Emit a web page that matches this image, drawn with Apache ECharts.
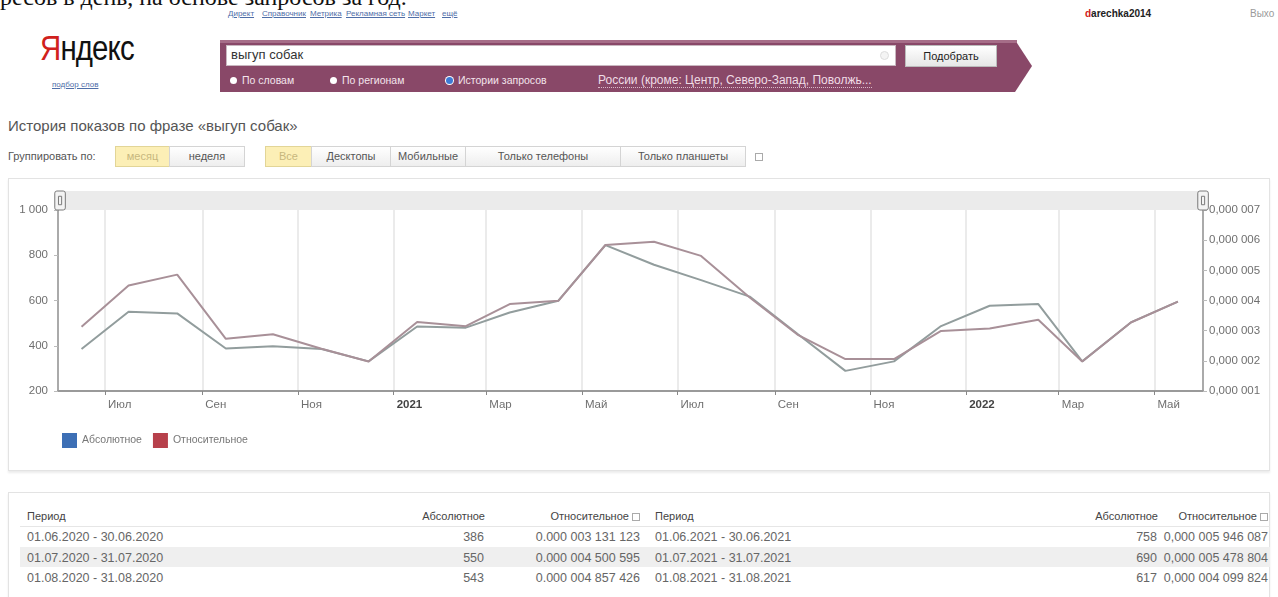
<!DOCTYPE html>
<html lang="ru">
<head>
<meta charset="utf-8">
<title>История показов по фразе «выгуп собак»</title>
<script src="https://cdn.jsdelivr.net/npm/echarts@6/dist/echarts.min.js"></script>
<style>
  html, body { margin: 0; padding: 0; background: #fff; }
  body {
    width: 1278px; height: 597px; position: relative; overflow: hidden;
    font-family: 'Liberation Sans', Arial, sans-serif; color: #333;
  }
  .a { position: absolute; white-space: nowrap; }
  .cut-text { left: 0; top: -15px; font: 24px/24px 'Liberation Serif', 'Times New Roman', serif; color: #111; }
  .nav { top: 9px; font-size: 8px; line-height: 10px; color: #4f6ea8; text-decoration: underline; }
  .logo { left: 40px; top: 29px; font-size: 35px; line-height: 37px; color: #111; transform: scaleX(0.84); transform-origin: left top; letter-spacing: -1px; }
  .logo span { color: #d0211c; }
  .sublogo { left: 52px; top: 80px; font-size: 8px; color: #4f6ea8; text-decoration: underline; }
  .banner {
    left: 220px; top: 40px; width: 812px; height: 52px; background: #894868;
    clip-path: polygon(0 0, 795px 0, 812px 26px, 795px 52px, 0 52px);
  }
  .banner-top { left: 220px; top: 40px; width: 797px; height: 3px; background: #a66d88; }
  .search { left: 226px; top: 45px; width: 670px; height: 21px; background: #fff; border: 1px solid #c9b7c0; box-sizing: border-box; }
  .search-text { left: 231px; top: 47px; font-size: 13px; line-height: 15px; color: #333; }
  .clear { left: 880px; top: 51px; width: 9px; height: 9px; border-radius: 50%; border: 1px solid #ddd; background: #f4f4f4; box-sizing: border-box; }
  .btn-main {
    left: 905px; top: 45px; width: 92px; height: 22px; box-sizing: border-box;
    border: 1px solid #bbb; background: linear-gradient(#fff, #e6e6e6);
    font-size: 11px; line-height: 20px; text-align: center; color: #222;
  }
  .radio { top: 74px; font-size: 10.5px; line-height: 12px; color: #f3e4ec; }
  .radio i { display: inline-block; width: 7px; height: 7px; border-radius: 50%; background: #fff; margin-right: 5px; vertical-align: 0; }
  .radio i.on { background: #3d7ad6; box-shadow: 0 0 0 1px #fff; }
  .region { left: 598px; top: 74px; font-size: 12px; line-height: 13px; color: #f0dde6; border-bottom: 1px dotted #d9b9c9; }
  .user { left: 1085px; top: 8px; font-size: 10px; font-weight: bold; line-height: 12px; color: #222; }
  .user span { color: #d0211c; }
  .logout { left: 1250px; top: 8px; font-size: 10px; line-height: 12px; color: #9a9a9a; }
  .title { left: 8px; top: 118px; font-size: 15px; line-height: 16px; color: #555; }
  .group-label { left: 8px; top: 150px; font-size: 11px; line-height: 13px; color: #555; }
  .tab {
    top: 146px; height: 21px; box-sizing: border-box; border: 1px solid #d4d4d4;
    background: linear-gradient(#fff, #eee); font-size: 11px; line-height: 19px;
    text-align: center; color: #555;
  }
  .tab.on { background: #fcefb6; border-color: #e2d597; color: #c7b77e; }
  .help { width: 8px; height: 8px; border: 1px solid #aaa; box-sizing: border-box; }
  .panel { left: 8px; width: 1262px; border: 1px solid #e3e3e3; box-sizing: border-box; box-shadow: 0 2px 2px rgba(0,0,0,0.08); }
  #chart { position: absolute; left: 8px; top: 178px; width: 1262px; height: 292px; }
  .th { top: 510px; font-size: 11px; line-height: 13px; color: #444; }
  .td { font-size: 12.5px; line-height: 14px; color: #666; }
  .row-bg { left: 20px; width: 1250px; height: 20px; background: #efefef; }
  .rule { left: 20px; width: 1250px; height: 1px; background: #e6e6e6; top: 526px; }
</style>
</head>
<body>
<div class="a cut-text">ресов в день, на основе запросов за год.</div>

<div class="a nav" style="left:228px">Директ</div>
<div class="a nav" style="left:262px">Справочник</div>
<div class="a nav" style="left:310px">Метрика</div>
<div class="a nav" style="left:346px">Рекламная сеть</div>
<div class="a nav" style="left:408px">Маркет</div>
<div class="a nav" style="left:442px">ещё</div>
<div class="a user"><span>d</span>arechka2014</div>
<div class="a logout">Выхо</div>

<div class="a logo"><span>Я</span>ндекс</div>
<div class="a sublogo">подбор слов</div>

<div class="a banner"></div>
<div class="a banner-top"></div>
<div class="a search"></div>
<div class="a search-text">выгуп собак</div>
<div class="a clear"></div>
<div class="a btn-main">Подобрать</div>
<div class="a radio" style="left:230px"><i></i>По словам</div>
<div class="a radio" style="left:330px"><i></i>По регионам</div>
<div class="a radio" style="left:446px"><i class="on"></i>Истории запросов</div>
<div class="a region">России (кроме: Центр, Северо-Запад, Поволжь...</div>

<div class="a title">История показов по фразе «выгуп собак»</div>
<div class="a group-label">Группировать по:</div>
<div class="a tab on" style="left:115px;width:55px">месяц</div>
<div class="a tab" style="left:169px;width:76px">неделя</div>
<div class="a tab on" style="left:265px;width:47px">Все</div>
<div class="a tab" style="left:311px;width:80px">Десктопы</div>
<div class="a tab" style="left:390px;width:76px">Мобильные</div>
<div class="a tab" style="left:465px;width:156px">Только телефоны</div>
<div class="a tab" style="left:620px;width:126px">Только планшеты</div>
<div class="a help" style="left:755px;top:153px"></div>

<div class="a panel" style="top:178px;height:293px"></div>
<div id="chart"></div>

<div class="a panel" style="top:492px;height:120px"></div>
<div class="a th" style="left:27px">Период</div>
<div class="a th" style="right:793px">Абсолютное</div>
<div class="a th" style="right:638px">Относительное <span class="help" style="display:inline-block;vertical-align:-1px"></span></div>
<div class="a th" style="left:655px">Период</div>
<div class="a th" style="right:120px">Абсолютное</div>
<div class="a th" style="right:10px">Относительное <span class="help" style="display:inline-block;vertical-align:-1px"></span></div>
<div class="a rule"></div>
<div class="a row-bg" style="top:547px"></div>
<div id="table-rows"></div>

<script>
(function () {
  // ось X: середины месяцев, июнь 2020 - май 2022
  var MONTHS = [
    '2020-06-16', '2020-07-16', '2020-08-16', '2020-09-16', '2020-10-16', '2020-11-16',
    '2020-12-16', '2021-01-16', '2021-02-16', '2021-03-16', '2021-04-16', '2021-05-16',
    '2021-06-16', '2021-07-16', '2021-08-16', '2021-09-16', '2021-10-16', '2021-11-16',
    '2021-12-16', '2022-01-16', '2022-02-16', '2022-03-16', '2022-04-16', '2022-05-16',
  ];
  var ABS_VALUES = [
    386, 550, 543, 388, 398, 386, 331, 485, 480, 547, 599, 845,
    758, 690, 617, 450, 289, 331, 487, 577, 584, 331, 503, 595,
  ];
  // относительное, в миллионных долях
  var REL_VALUES = [
    3.131123, 4.500595, 4.857426, 2.73, 2.88, 2.4, 1.98, 3.29, 3.15, 3.88, 3.99, 5.84,
    5.946087, 5.478804, 4.099824, 2.85, 2.06, 2.06, 2.99, 3.07, 3.36, 1.98, 3.27, 3.96,
  ];
  var MONTH_NAMES = ['Янв', 'Фев', 'Мар', 'Апр', 'Май', 'Июн', 'Июл', 'Авг', 'Сен', 'Окт', 'Ноя', 'Дек'];
  var ABS_AXIS = { min: 200, max: 1000, interval: 200 };
  var REL_AXIS = { min: 1, max: 7, interval: 1 };
  var SERIES_NAMES = ['Абсолютное', 'Относительное'];

  // таблица под графиком
  var TABLE_LEFT = [
    ['01.06.2020 - 30.06.2020', '386', '0.000 003 131 123'],
    ['01.07.2020 - 31.07.2020', '550', '0.000 004 500 595'],
    ['01.08.2020 - 31.08.2020', '543', '0.000 004 857 426'],
  ];
  var TABLE_RIGHT = [
    ['01.06.2021 - 30.06.2021', '758', '0,000 005 946 087'],
    ['01.07.2021 - 31.07.2021', '690', '0,000 005 478 804'],
    ['01.08.2021 - 31.08.2021', '617', '0,000 004 099 824'],
  ];

  function renderTable() {
    var box = document.getElementById('table-rows');
    var html = '';
    for (var i = 0; i < 3; i++) {
      var top = 530 + i * 20.5;
      var l = TABLE_LEFT[i];
      var r = TABLE_RIGHT[i];
      html +=
        '<div class="a td" style="left:27px;top:' + top + 'px">' + l[0] + '</div>' +
        '<div class="a td" style="right:794px;top:' + top + 'px">' + l[1] + '</div>' +
        '<div class="a td" style="right:638px;top:' + top + 'px">' + l[2] + '</div>' +
        '<div class="a td" style="left:655px;top:' + top + 'px">' + r[0] + '</div>' +
        '<div class="a td" style="right:121px;top:' + top + 'px">' + r[1] + '</div>' +
        '<div class="a td" style="right:10px;top:' + top + 'px">' + r[2] + '</div>';
    }
    box.innerHTML = html;
  }

  function thousands(v) {
    return String(v).replace(/\B(?=(\d{3})+(?!\d))/g, ' ');
  }

  function pairs(values) {
    return MONTHS.map(function (m, i) {
      return [m, values[i]];
    });
  }

  renderTable();

  var chart = echarts.init(document.getElementById('chart'));
  var labelFont = { color: '#6f6f6f', fontSize: 11.5, fontFamily: 'Liberation Sans, Arial, sans-serif' };

  var option = {
    animation: false,
    backgroundColor: 'transparent',
    grid: { left: 50, right: 67, top: 32, bottom: 79 },
    dataZoom: [
      {
        type: 'slider',
        xAxisIndex: 0,
        filterMode: 'none',
        start: 0,
        end: 100,
        left: 50,
        right: 67,
        top: 13,
        height: 19,
        zoomLock: true,
        showDetail: false,
        showDataShadow: false,
        brushSelect: false,
        moveHandleSize: 0,
        backgroundColor: '#ebebeb',
        borderColor: 'transparent',
        fillerColor: 'rgba(0,0,0,0)',
        handleIcon:
          'path://M2,0 H8 Q10,0 10,2 V16 Q10,18 8,18 H2 Q0,18 0,16 V2 Q0,0 2,0 Z M3.5,5 H6.5 V13 H3.5 Z',
        handleSize: '100%',
        handleStyle: { color: '#f3f3f3', borderColor: '#7a7a7a', borderWidth: 1 },
      },
    ],
    legend: {
      left: 49,
      top: 250,
      icon: 'rect',
      itemWidth: 15,
      itemHeight: 15,
      itemGap: 11,
      textStyle: { color: '#777', fontSize: 10.5, fontFamily: 'Liberation Sans, Arial, sans-serif' },
      data: [
        { name: SERIES_NAMES[0], itemStyle: { color: '#3d6fb5' } },
        { name: SERIES_NAMES[1], itemStyle: { color: '#b7404b' } },
      ],
    },
    xAxis: {
      type: 'time',
      min: new Date(2020, 5, 1).getTime(),
      max: new Date(2022, 5, 1).getTime(),
      splitNumber: 12,
      axisLine: { lineStyle: { color: '#9a9a9a', width: 2 } },
      axisTick: { show: true, length: 4, lineStyle: { color: '#888' } },
      splitLine: { show: true, lineStyle: { color: '#ebebeb', width: 2 } },
      axisLabel: Object.assign({}, labelFont, {
        align: 'left',
        padding: [0, 0, 0, 3],
        margin: 8,
        showMinLabel: false,
        showMaxLabel: false,
        formatter: function (value) {
          var d = new Date(value);
          if (d.getMonth() === 0) return '{year|' + d.getFullYear() + '}';
          return MONTH_NAMES[d.getMonth()];
        },
        rich: { year: { fontWeight: 'bold', color: '#444', fontSize: 11.5 } },
      }),
    },
    yAxis: [
      {
        type: 'value',
        position: 'left',
        min: ABS_AXIS.min,
        max: ABS_AXIS.max,
        interval: ABS_AXIS.interval,
        axisLine: { show: true, lineStyle: { color: '#aaa', width: 2 } },
        axisTick: { show: true, length: 4, lineStyle: { color: '#bbb' } },
        splitLine: { show: false },
        axisLabel: Object.assign({}, labelFont, {
          margin: 10,
          formatter: function (v) {
            return thousands(v);
          },
        }),
      },
      {
        type: 'value',
        position: 'right',
        min: REL_AXIS.min,
        max: REL_AXIS.max,
        interval: REL_AXIS.interval,
        axisLine: { show: true, lineStyle: { color: '#aaa', width: 2 } },
        axisTick: { show: true, length: 4, lineStyle: { color: '#bbb' } },
        splitLine: { show: false },
        axisLabel: Object.assign({}, labelFont, {
          margin: 6,
          formatter: function (v) {
            return '0,000 00' + v;
          },
        }),
      },
    ],
    series: [
      {
        name: SERIES_NAMES[0],
        type: 'line',
        yAxisIndex: 0,
        data: pairs(ABS_VALUES),
        symbol: 'none',
        itemStyle: { color: '#3d6fb5' },
        lineStyle: { color: '#929d9d', width: 2 },
      },
      {
        name: SERIES_NAMES[1],
        type: 'line',
        yAxisIndex: 1,
        data: pairs(REL_VALUES),
        symbol: 'none',
        itemStyle: { color: '#b7404b' },
        lineStyle: { color: '#a89098', width: 2 },
      },
    ],
  };

  chart.setOption(option);
})();
</script>
</body>
</html>
